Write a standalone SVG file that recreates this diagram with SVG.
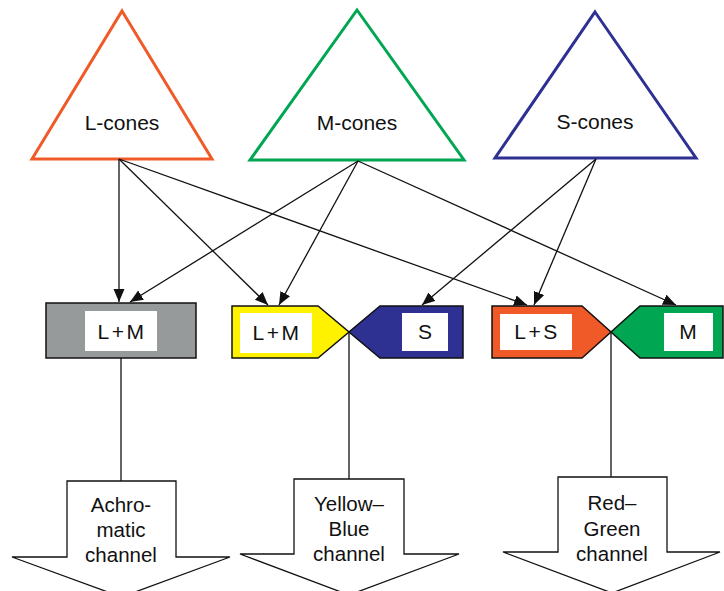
<svg xmlns="http://www.w3.org/2000/svg" width="724" height="591" viewBox="0 0 724 591">
<style>
text{font-family:"Liberation Sans",Arial,sans-serif;font-size:20.5px;fill:#111;text-anchor:middle}
.cl{font-size:21px}
.bl{font-size:21px;letter-spacing:2.5px}
.cone{fill:#fff;stroke-width:3;stroke-linejoin:miter}
.box{stroke:#111;stroke-width:1.5}
.inner{fill:#fff}
.conn{stroke:#111;stroke-width:1.3;fill:none}
.out{fill:#fff;stroke:#111;stroke-width:1.3}
</style>
<defs>
<marker id="ah" markerUnits="userSpaceOnUse" markerWidth="14" markerHeight="12" refX="13" refY="5.5" orient="auto">
<path d="M0,0 L13,5.5 L0,11 z" fill="#111"/>
</marker>
</defs>
<rect width="724" height="591" fill="#fff"/>
<g id="l-cones">
<polygon class="cone" points="122,11 212,159 32,159" stroke="#EF5A28"/>
<text class="cl" x="122" y="130">L-cones</text>
</g>
<g id="m-cones">
<polygon class="cone" points="357,10 464,160 250,160" stroke="#00A651"/>
<text class="cl" x="357" y="130">M-cones</text>
</g>
<g id="s-cones">
<polygon class="cone" points="595,12 696,158 495,158" stroke="#2E3192"/>
<text class="cl" x="595" y="129">S-cones</text>
</g>
<g id="lm-achromatic">
<rect class="box" x="46" y="303" width="150" height="55" fill="#979A9A"/>
<rect class="inner" x="85" y="311" width="72" height="40"/>
<text class="bl" x="122" y="339">L+M</text>
</g>
<g id="lm-yellow">
<polygon class="box" points="232,306 318,306 349,332 318,358 232,358" fill="#FFF200"/>
<rect class="inner" x="240" y="313" width="72" height="40"/>
<text class="bl" x="277" y="340">L+M</text>
</g>
<g id="s-blue">
<polygon class="box" points="463,306 380,306 349,332 380,358 463,358" fill="#2E3192"/>
<rect class="inner" x="402" y="313" width="46" height="38"/>
<text class="cl" x="425" y="339">S</text>
</g>
<g id="ls-red">
<polygon class="box" points="492,306 582,306 611,332 582,358 492,358" fill="#EF5A28"/>
<rect class="inner" x="500" y="314" width="72" height="36"/>
<text class="bl" x="537" y="339">L+S</text>
</g>
<g id="m-green">
<polygon class="box" points="723,306 640,306 611,332 640,358 723,358" fill="#00A651"/>
<rect class="inner" x="664" y="313" width="49" height="38"/>
<text class="cl" x="688" y="339">M</text>
</g>
<g id="connectors">
<line class="conn" x1="119" y1="159" x2="119" y2="302" marker-end="url(#ah)"/>
<line class="conn" x1="358" y1="161" x2="130" y2="302" marker-end="url(#ah)"/>
<line class="conn" x1="119" y1="159" x2="268" y2="305" marker-end="url(#ah)"/>
<line class="conn" x1="358" y1="161" x2="279" y2="305" marker-end="url(#ah)"/>
<line class="conn" x1="119" y1="159" x2="527" y2="305" marker-end="url(#ah)"/>
<line class="conn" x1="596" y1="159" x2="534" y2="305" marker-end="url(#ah)"/>
<line class="conn" x1="358" y1="161" x2="676" y2="305" marker-end="url(#ah)"/>
<line class="conn" x1="596" y1="159" x2="422" y2="305" marker-end="url(#ah)"/>
<line class="conn" x1="121" y1="358" x2="121" y2="481"/>
<line class="conn" x1="349" y1="332" x2="349" y2="479"/>
<line class="conn" x1="611" y1="332" x2="611" y2="477"/>
</g>
<g id="achromatic-channel">
<polygon class="out" points="67,481 176,481 176,557 230,557 121.5,597 12,557 67,557"/>
<text x="121" y="512">Achro-</text>
<text x="121" y="537">matic</text>
<text x="121" y="562">channel</text>
</g>
<g id="yellow-blue-channel">
<polygon class="out" points="294,479 404,479 404,554 459,554 349,595 240,554 294,554"/>
<text x="349" y="511">Yellow–</text>
<text x="349" y="536">Blue</text>
<text x="349" y="561">channel</text>
</g>
<g id="red-green-channel">
<polygon class="out" points="558,477 667,477 667,552 720,552 612,593 503,552 558,552"/>
<text x="612" y="510">Red–</text>
<text x="612" y="536">Green</text>
<text x="612" y="561">channel</text>
</g>
</svg>
